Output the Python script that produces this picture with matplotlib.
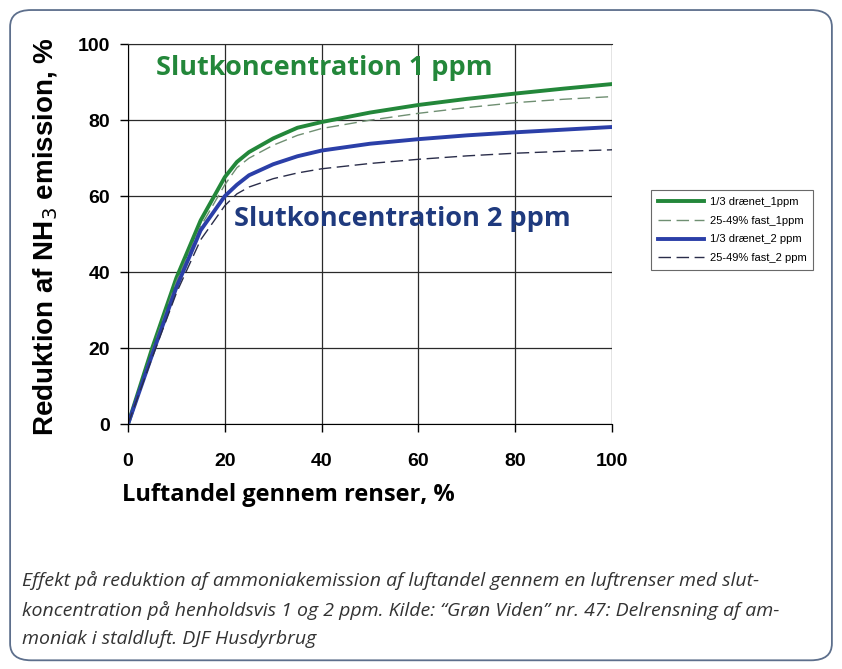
import matplotlib.pyplot as plt
from matplotlib.patches import FancyBboxPatch

# Andel af luft gennem renser (%)
x = [0, 5, 10, 15, 20, 22.5, 25, 30, 35, 40, 50, 60, 70, 80, 90, 100]

# Reduktion af NH3 emission (%)
draenet_1ppm = [0, 20, 38.5, 53.6, 65, 69, 71.6, 75.2, 78, 79.5, 82, 84, 85.6, 87, 88.3, 89.5]
fast_1ppm = [0, 19.5, 37.5, 52, 63, 67.5, 70, 73.4, 76, 77.8, 80, 81.8, 83.3, 84.6, 85.5, 86.2]
draenet_2ppm = [0, 18.3, 36, 51, 60, 63, 65.5, 68.4, 70.5, 72, 73.8, 75, 76, 76.8, 77.5, 78.2]
fast_2ppm = [0, 17.5, 34.5, 48.5, 57.5, 60.6, 62.4, 64.6, 66.1, 67.2, 68.6, 69.7, 70.6, 71.3, 71.8, 72.2]

labels = ['1/3 drænet_1ppm', '25-49% fast_1ppm', '1/3 drænet_2 ppm', '25-49% fast_2 ppm']

green = '#23873a'
blue = '#2b3fa8'
navy = '#1f3a7e'

fig = plt.figure(figsize=(8.42, 6.69), dpi=100, facecolor='white')

# rounded frame around everything
frame = FancyBboxPatch((0.012, 0.013), 0.976, 0.972, boxstyle='round,pad=0,rounding_size=0.025',
                       transform=fig.transFigure, fc='none', ec='#5d6f8c', lw=1.3)
fig.patches.append(frame)

ax = fig.add_axes([0.152, 0.366, 0.575, 0.568])
ax.plot(x, draenet_1ppm, color=green, lw=2.8, label=labels[0], solid_joinstyle='round')
ax.plot(x, fast_1ppm, color='#6f8f72', lw=1.0, ls=(0, (9, 4)), label=labels[1])
ax.plot(x, draenet_2ppm, color=blue, lw=2.8, label=labels[2], solid_joinstyle='round')
ax.plot(x, fast_2ppm, color='#2a2d4a', lw=1.0, ls=(0, (9, 4)), label=labels[3])

ax.set_xlim(0, 100)
ax.set_ylim(0, 100)
ax.set_xticks([0, 20, 40, 60, 80, 100])
ax.set_yticks([0, 20, 40, 60, 80, 100])
ax.grid(True, color='#2a2a2a', lw=0.9)
ax.set_axisbelow(True)
ax.spines['right'].set_visible(False)
ax.spines['top'].set_color('#2a2a2a')
ax.tick_params(labelsize=14, length=6, width=1)
for t in ax.get_xticklabels() + ax.get_yticklabels():
    t.set_fontweight('bold')
    t.set_family('Liberation Sans')
ax.tick_params(axis='x', pad=15)
ax.tick_params(axis='y', pad=7)

ax.set_xlabel('Luftandel gennem renser, %', fontsize=17, fontweight='bold',
              family='Open Sans', ha='left', va='top')
ax.xaxis.set_label_coords(-0.012, -0.155)
ax.set_ylabel('Reduktion af NH$_3$ emission, %', fontsize=20, fontweight='bold',
              family='Liberation Sans')
ax.yaxis.set_label_coords(-0.14, 0.493)

ax.text(5.8, 93.8, 'Slutkoncentration 1 ppm', color=green, fontsize=19.5, fontweight='bold',
        family='Open Sans', va='center')
ax.text(22, 54, 'Slutkoncentration 2 ppm', color=navy, fontsize=19.5, fontweight='bold',
        family='Open Sans', va='center')

leg = ax.legend(loc='upper left', bbox_to_anchor=(0.773, 0.716), bbox_transform=fig.transFigure,
                prop={'family': 'Liberation Sans', 'size': 8},
                frameon=True, fancybox=False, edgecolor='#444444', handlelength=4.2,
                handletextpad=0.5, borderpad=0.6, labelspacing=0.8, borderaxespad=0)
leg.get_frame().set_linewidth(0.8)

caption = ('Effekt på reduktion af ammoniakemission af luftandel gennem en luftrenser med slut-\n'
           'koncentration på henholdsvis 1 og 2 ppm. Kilde: \u201cGrøn Viden\u201d nr. 47: Delrensning af am-\n'
           'moniak i staldluft. DJF Husdyrbrug')
fig.text(0.026, 0.089, caption, fontsize=14, style='italic', family='Open Sans',
         color='#333333', va='center', linespacing=1.7)

fig.savefig('out.png', dpi=100)
